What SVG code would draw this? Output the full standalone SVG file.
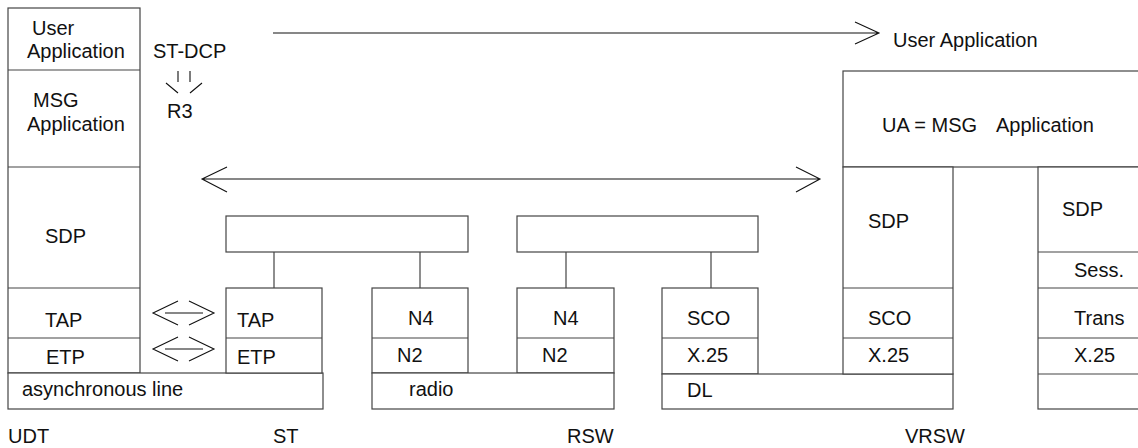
<svg xmlns="http://www.w3.org/2000/svg" width="1138" height="448" viewBox="0 0 1138 448">
<style>
.b{fill:#fff;stroke:#444;stroke-width:1.2}
.d{stroke:#444;stroke-width:1.2;fill:none}
.a{stroke:#111;stroke-width:1.1;fill:none}
text{font-family:"Liberation Sans",Arial,sans-serif;font-size:20px;fill:#111}
</style>
<rect width="1138" height="448" fill="#fff"/>
<g id="udt">
<rect class="b" x="8" y="8" width="132" height="365"/>
<path class="d" d="M8 70H140M8 167H140M8 288H140M8 338H140"/>
<text x="32" y="35">User</text>
<text x="27" y="58">Application</text>
<text x="33" y="107">MSG</text>
<text x="27" y="131">Application</text>
<text x="45" y="243">SDP</text>
<text x="45" y="327">TAP</text>
<text x="46" y="364">ETP</text>
</g>
<g id="async-line">
<rect class="b" x="8" y="373" width="315" height="36"/>
<text x="22" y="396">asynchronous line</text>
</g>
<g id="st">
<rect class="b" x="226" y="288" width="96" height="85"/>
<path class="d" d="M226 338H322"/>
<text x="237" y="327">TAP</text>
<text x="237" y="364">ETP</text>
</g>
<g id="upper1"><rect class="b" x="226" y="216" width="242" height="36"/></g>
<g id="rsw-n1">
<rect class="b" x="372" y="288" width="96" height="85"/>
<path class="d" d="M372 338H468"/>
<text x="408" y="325">N4</text>
<text x="397" y="362">N2</text>
</g>
<g id="rsw-n2">
<rect class="b" x="517" y="288" width="97" height="85"/>
<path class="d" d="M517 338H614"/>
<text x="553" y="325">N4</text>
<text x="542" y="362">N2</text>
</g>
<g id="radio">
<rect class="b" x="372" y="373" width="242" height="36"/>
<text x="409" y="396">radio</text>
</g>
<g id="upper2"><rect class="b" x="517" y="216" width="241" height="36"/></g>
<g id="rsw-sco">
<rect class="b" x="662" y="288" width="96" height="86"/>
<path class="d" d="M662 338H758"/>
<text x="687" y="325">SCO</text>
<text x="687" y="362">X.25</text>
</g>
<g id="dl">
<rect class="b" x="662" y="374" width="291" height="35"/>
<text x="687" y="397">DL</text>
</g>
<g id="vrsw-ua">
<rect class="b" x="843" y="71" width="305" height="96"/>
<text x="882" y="132">UA = MSG <tspan x="996">Application</tspan></text>
</g>
<g id="vrsw-sdp">
<rect class="b" x="843" y="167" width="110" height="207"/>
<path class="d" d="M843 288H953M843 338H953"/>
<text x="868" y="228">SDP</text>
<text x="868" y="325">SCO</text>
<text x="868" y="362">X.25</text>
</g>
<g id="vrsw-right">
<rect class="b" x="1038" y="167" width="110" height="242"/>
<path class="d" d="M1038 252H1148M1038 288H1148M1038 338H1148M1038 374H1148"/>
<text x="1062" y="216">SDP</text>
<text x="1074" y="277">Sess.</text>
<text x="1074" y="325">Trans</text>
<text x="1074" y="362">X.25</text>
</g>
<g id="labels">
<text x="153" y="58">ST-DCP</text>
<text x="167" y="118">R3</text>
<text x="893" y="47">User Application</text>
<text x="8" y="443">UDT</text>
<text x="273" y="443">ST</text>
<text x="567" y="443">RSW</text>
<text x="905" y="443">VRSW</text>
</g>
<g id="connectors">
<path class="d" d="M274 252V288M420 252V288M566 252V288M711 252V288"/>
<path class="a" d="M273 33H879M855 22L879 33L855 44"/>
<path class="a" d="M202 179H820M227 167L202 179L227 192M796 167L820 179L796 192"/>
<path class="a" d="M165 313H203M178 301L153 313L178 325M189 301L214 313L189 325"/>
<path class="a" d="M165 349H203M178 337L153 349L178 361M189 337L214 349L189 361"/>
<path class="a" d="M178 71V82M190 71V82M166 83L178 93M202 83L190 93"/>
</g>
</svg>
